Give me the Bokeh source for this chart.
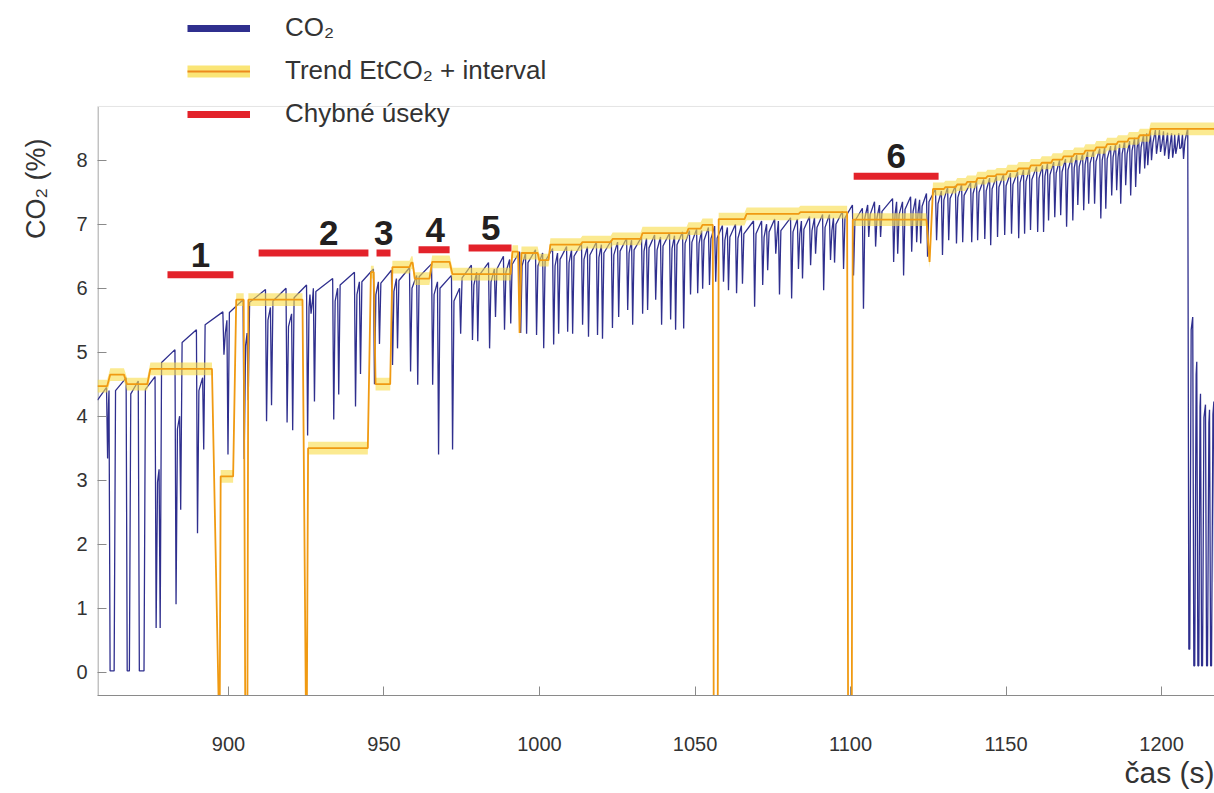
import math
from bokeh.plotting import figure
from bokeh.models import Range1d, FixedTicker, Legend, LegendItem, Title, Span
from bokeh.core.properties import value
from bokeh.embed import file_html
from bokeh.resources import INLINE

# ---------------- data ----------------
x_ticks = [900, 950, 1000, 1050, 1100, 1150, 1200]
y_ticks = [0, 1, 2, 3, 4, 5, 6, 7, 8]
x_lim = (857.9, 1217.0)
y_lim = (-0.364, 8.84)          # visible data box of the reference

trace_start = (857.9, 4.25)

# end of each expiratory plateau (time s), value at plateau end, trough after it
breath_t = [860.8, 861.6, 867.1, 871.0, 876.4, 877.7, 882.8, 884.3, 889.7, 891.7,
            898.2, 899.5, 904.7, 906.0, 911.9, 913.5, 918.5, 920.3, 925.1, 926.2, 927.3,
            933.5, 935.1, 940.5, 942.1, 946.6, 948.2, 952.4, 954.0, 958.2, 960.5,
            965.3, 967.2, 971.7, 974.3, 978.1, 979.8, 983.6, 985.5, 988.4, 990.4, 993.6,
            995.5, 998.7, 1001.0, 1004.2, 1005.8, 1008.7, 1010.3, 1013.5, 1015.4, 1018.3,
            1019.9, 1023.1, 1025.1, 1028.0, 1029.6, 1032.8, 1034.4, 1037.0, 1038.9, 1041.8,
            1043.4, 1046.0, 1048.2, 1050.5, 1052.1, 1054.3, 1056.3, 1058.8, 1060.4, 1063.0,
            1064.9, 1068.8,
            1071.4, 1073.0, 1075.6, 1076.8, 1080.7, 1082.9, 1084.2, 1086.8, 1088.4, 1091.0,
            1093.2, 1094.5, 1097.4, 1100.6, 1103.8, 1105.5, 1107.7, 1109.3, 1113.5, 1114.8,
            1116.7, 1119.3, 1120.9, 1122.2, 1124.4, 1127.3, 1129.2, 1131.2, 1133.7, 1135.7,
            1138.6, 1140.5, 1142.8, 1144.7, 1146.9,
            1149.2, 1151.4, 1153.7, 1155.6, 1157.5, 1159.8, 1161.7, 1163.3, 1165.3, 1167.2,
            1169.1, 1171.1, 1172.7, 1174.6, 1176.2, 1178.1, 1180.1, 1181.7, 1183.6, 1185.2,
            1186.5, 1188.1, 1189.7, 1191.3, 1192.6, 1194.2, 1195.2, 1196.4, 1198.0, 1199.3,
            1200.6, 1201.9, 1203.2, 1204.2, 1205.5, 1206.7, 1208.4,
            1210.0, 1211.3, 1212.5, 1214.1, 1215.4, 1216.8]

breath_peak = [4.45, 4.40, 4.60, 4.55, 4.62, 3.17, 5.04, 4.00, 5.35, 4.60,
               5.63, 5.50, 5.82, 5.30, 5.98, 5.70, 6.00, 5.60, 6.05, 5.90, 6.00,
               6.15, 6.00, 6.25, 6.10, 6.30, 6.10, 6.28, 6.15, 6.32, 6.20,
               6.38, 6.10, 6.20, 6.00, 6.36, 6.25, 6.40, 6.30, 6.50, 6.45, 6.57,
               6.55, 6.60, 6.55, 6.62, 6.55, 6.65, 6.60, 6.70, 6.65, 6.72,
               6.68, 6.75, 6.72, 6.78, 6.75, 6.80, 6.78, 6.83, 6.80, 6.86,
               6.82, 6.88, 6.90, 6.92, 6.90, 6.95, 6.97, 6.98, 6.95, 7.00,
               6.98, 7.05,
               7.05, 7.00, 7.08, 7.05, 7.10, 7.08, 7.05, 7.12, 7.10, 7.15,
               7.15, 7.10, 7.20, 7.30, 7.25, 7.30, 7.35, 7.30, 7.40, 7.35,
               7.35, 7.43, 7.40, 7.38, 7.48, 7.55, 7.52, 7.58, 7.60, 7.62,
               7.65, 7.68, 7.70, 7.72, 7.75,
               7.78, 7.80, 7.82, 7.85, 7.87, 7.90, 7.92, 7.95, 7.97, 8.00,
               8.02, 8.05, 8.08, 8.10, 8.13, 8.15, 8.18, 8.20, 8.22, 8.25,
               8.25, 8.30, 8.30, 8.35, 8.38, 8.40, 8.42, 8.45, 8.47, 8.47,
               8.45, 8.43, 8.42, 8.40, 8.42, 8.40, 8.50,
               5.55, 4.85, 4.35, 4.18, 4.10, 4.23]

breath_low = [3.34, 0.02, 0.02, 0.02, 0.69, 0.69, 1.06, 2.54, 2.17, 3.48,
              4.96, 3.40, 3.33, 4.25, 3.92, 4.17, 3.90, 3.78, 3.70, 5.60, 4.23,
              3.95, 4.34, 4.15, 4.66, 4.50, 5.13, 4.80, 5.06, 4.70, 4.49,
              4.49, 3.40, 3.48, 5.29, 5.19, 5.17, 5.06, 5.55, 5.35, 5.45, 5.30,
              5.29, 5.27, 5.06, 5.12, 5.29, 5.32, 5.29, 5.43, 5.24, 5.27,
              5.21, 5.38, 5.55, 5.66, 5.43, 5.60, 5.66, 5.82, 5.43, 5.51,
              5.35, 5.37, 5.90, 5.92, 5.99, 6.05, 6.10, 6.10, 5.97, 5.92,
              6.07, 5.71,
              6.05, 6.28, 6.54, 5.90, 5.84, 6.30, 6.15, 6.36, 6.54, 5.97,
              6.44, 6.40, 6.30, 6.20, 5.68, 6.80, 6.65, 6.80, 6.41, 6.54,
              6.20, 6.57, 6.72, 6.70, 6.49, 6.75, 6.52, 6.75, 6.70, 6.72,
              6.72, 6.75, 6.77, 6.67, 6.80,
              6.83, 6.85, 6.78, 6.85, 6.91, 6.88, 6.88, 7.06, 7.11, 7.14,
              6.96, 7.06, 7.30, 7.22, 7.32, 7.32, 7.09, 7.24, 7.45, 7.53,
              7.32, 7.61, 7.45, 7.58, 7.79, 7.87, 7.92, 8.00, 8.10, 8.13,
              8.07, 8.02, 8.04, 8.10, 8.18, 8.02, 0.36,
              0.10, 0.10, 0.10, 0.10, 0.10, 0.10]

# seconds the trace stays at the bottom (only where visible)
bottom_hold = {861.6: 1.3, 867.1: 0.7, 871.0: 1.5, 1208.4: 0.3,
               1210.0: 0.3, 1211.3: 0.3, 1212.5: 0.3, 1214.1: 0.3, 1215.4: 0.3}

# EtCO2 trend (vertices)
trend_t = [857.9, 861.0, 862.0, 866.4, 867.4, 873.9, 874.9, 894.7, 896.9, 897.2, 897.5,
           901.5, 902.5, 904.9, 905.4, 906.1, 906.4, 923.8, 924.9, 925.2, 925.6,
           944.8, 945.8, 946.7, 947.3, 952.0, 952.7, 958.2, 958.8, 959.2, 959.9,
           964.6, 965.5, 971.1, 972.0, 990.7, 991.3, 993.1, 993.6, 994.2, 999.4,
           999.9, 1002.9, 1003.5, 1013.2, 1013.8, 1022.9, 1023.5, 1032.5, 1033.1,
           1047.3, 1047.9, 1051.8, 1052.4, 1055.7, 1056.0, 1057.3, 1057.6, 1065.9,
           1066.6, 1083.3, 1083.9, 1098.9, 1099.2, 1100.4, 1100.7, 1124.4, 1125.4,
           1126.5, 1130.0, 1130.5, 1133.8, 1134.3, 1137.0, 1137.5, 1140.3, 1140.8,
           1143.5, 1144.0, 1146.5, 1147.0, 1150.0, 1150.5, 1153.5, 1154.0, 1157.5,
           1158.0, 1161.0, 1161.5, 1164.5, 1165.0, 1168.0, 1168.5, 1171.5, 1172.0,
           1175.0, 1175.5, 1178.5, 1179.0, 1182.0, 1182.5, 1185.5, 1186.0, 1189.0,
           1189.5, 1192.5, 1193.0, 1196.0, 1196.5, 1217.5]
trend_v = [4.47, 4.47, 4.65, 4.65, 4.50, 4.50, 4.74, 4.74, -0.6, -0.6, 3.06,
           3.06, 5.82, 5.82, -0.6, -0.6, 5.82, 5.82, -0.6, -0.6, 3.50,
           3.50, 6.25, 6.25, 4.50, 4.50, 6.33, 6.33, 6.40, 6.40, 6.15,
           6.15, 6.41, 6.41, 6.22, 6.22, 6.57, 6.57, 5.30, 6.55, 6.55,
           6.44, 6.44, 6.68, 6.68, 6.72, 6.72, 6.77, 6.77, 6.86,
           6.86, 6.93, 6.93, 6.99, 6.99, -0.6, -0.6, 7.08, 7.08,
           7.16, 7.16, 7.19, 7.19, -0.6, -0.6, 7.07, 7.07, 6.41,
           7.55, 7.55, 7.58, 7.58, 7.62, 7.62, 7.66, 7.66, 7.72,
           7.72, 7.75, 7.75, 7.78, 7.78, 7.83, 7.83, 7.87, 7.87,
           7.92, 7.92, 7.96, 7.96, 8.01, 8.01, 8.06, 8.06, 8.10,
           8.10, 8.15, 8.15, 8.20, 8.20, 8.25, 8.25, 8.29, 8.29,
           8.34, 8.34, 8.39, 8.39, 8.49, 8.49]
trend_halfwidth = 0.1

# faulty segments
err_start = [880.4, 909.7, 947.6, 961.1, 977.2, 1101.0]
err_end = [901.6, 945.0, 952.1, 971.1, 991.0, 1128.3]
err_level = [6.21, 6.55, 6.55, 6.60, 6.63, 7.75]
err_label = ["1", "2", "3", "4", "5", "6"]
err_label_t = [891.0, 932.2, 949.9, 966.5, 984.3, 1114.7]

legend_labels = ["CO₂", "Trend EtCO₂ + interval", "Chybné úseky"]

assert len(breath_t) == len(breath_peak) == len(breath_low)
assert len(trend_t) == len(trend_v)

# ---------------- build the capnogram polyline ----------------
FALL, RISE, KNEE = 0.35, 0.45, 0.2
co2_x = [trace_start[0]]
co2_y = [trace_start[1]]
n = len(breath_t)
for i in range(n):
    td, pk, lo = breath_t[i], breath_peak[i], breath_low[i]
    co2_x.append(td); co2_y.append(pk)
    tb = td + FALL
    co2_x.append(tb); co2_y.append(lo)
    h = bottom_hold.get(td, 0.0)
    if h:
        tb += h
        co2_x.append(tb); co2_y.append(lo)
    if i + 1 < n:
        ts = min(tb + RISE, breath_t[i + 1] - 0.15)
        co2_x.append(ts); co2_y.append(breath_peak[i + 1] - KNEE)

band_lo = [v - trend_halfwidth for v in trend_v]
band_hi = [v + trend_halfwidth for v in trend_v]

# ---------------- figure ----------------
BLUE = "#2f2f8e"
ORANGE = "#f09a12"
YELLOW = "#f8dc48"
RED = "#e3222a"
TXT = "#333333"
AX = "#8a8a8a"
FONT = "Liberation Sans"

W, H = 1214, 793
FRAME_BOTTOM = 98
frame_h = H - FRAME_BOTTOM
px_per_unit = 64.0
# the frame reaches the top of the page so that the legend (which overlaps the
# data box in the reference) can live inside it
y_top = y_lim[0] + frame_h / px_per_unit

p = figure(width=W, height=H,
           x_range=Range1d(*x_lim), y_range=Range1d(y_lim[0], y_top),
           output_backend="svg", toolbar_location=None,
           min_border_left=97, min_border_right=0, min_border_top=0,
           min_border_bottom=FRAME_BOTTOM)
p.background_fill_color = "white"
p.border_fill_color = "white"
p.outline_line_color = None
p.xgrid.visible = False
p.ygrid.visible = False

for ax in (p.xaxis[0], p.yaxis[0]):
    ax.major_tick_line_color = AX
    ax.minor_tick_line_color = None
    ax.major_tick_in = 9
    ax.major_tick_out = 0
    ax.major_label_text_font = FONT
    ax.major_label_text_font_size = "20px"
    ax.major_label_text_color = TXT
p.xaxis.axis_line_color = AX
p.yaxis.axis_line_color = None
p.xaxis.ticker = FixedTicker(ticks=x_ticks)
p.yaxis.ticker = FixedTicker(ticks=y_ticks)
p.xaxis.major_label_standoff = 41
p.yaxis.major_label_standoff = 10

# box: left axis line stopping at the top of the data box, faint top border
p.segment(x0=[x_lim[0] + 0.17], y0=[y_lim[0]], x1=[x_lim[0] + 0.17], y1=[y_lim[1]],
          line_color=AX, line_width=1)
p.add_layout(Span(location=y_lim[1], dimension="width", line_color="#e4e4e4",
                  line_width=1))

p.line(co2_x, co2_y, line_color=BLUE, line_width=1.3)
p.varea(x=trend_t, y1=band_lo, y2=band_hi, fill_color=YELLOW, fill_alpha=0.6)
p.line(trend_t, trend_v, line_color=ORANGE, line_width=1.8)

p.segment(x0=err_start, y0=err_level, x1=err_end, y1=err_level,
          line_color=RED, line_width=7)
p.text(x=err_label_t, y=err_level, text=err_label, text_font=value(FONT),
       text_font_style="bold", text_font_size="35px", text_align="center",
       text_baseline="bottom", y_offset=-8, text_color="#231f20")

# axis titles
p.add_layout(Title(text="čas (s)", align="right", text_font=FONT,
                   text_font_size="30px", text_font_style="normal",
                   text_color=TXT, standoff=0), "below")
p.add_layout(Title(text="CO₂ (%)", align="right", offset=138, vertical_align="top",
                   text_font=FONT, text_font_size="27px", text_font_style="normal",
                   text_color=TXT, standoff=41), "left")

# legend samples: renderers parked outside the visible ranges
off_x = [x_lim[0] - 20, x_lim[0] - 10]
off_y = [y_lim[0] - 5, y_lim[0] - 5]
d_blue = p.line(off_x, off_y, line_color=BLUE, line_width=7)
d_band = p.line(off_x, off_y, line_color=YELLOW, line_alpha=0.75, line_width=12)
d_trend = p.line(off_x, off_y, line_color="#ec8a1e", line_width=2)
d_red = p.line(off_x, off_y, line_color=RED, line_width=7)
legend = Legend(items=[LegendItem(label=legend_labels[0], renderers=[d_blue]),
                       LegendItem(label=legend_labels[1], renderers=[d_band, d_trend]),
                       LegendItem(label=legend_labels[2], renderers=[d_red])],
                location=(90, 566), glyph_width=63, glyph_height=22, label_height=22,
                label_standoff=35, spacing=12, padding=0, margin=0,
                label_text_font=FONT, label_text_font_size="26px",
                label_text_color=TXT, border_line_color=None, background_fill_alpha=0)
p.add_layout(legend)

open("out.html", "w").write(file_html(p, INLINE))
